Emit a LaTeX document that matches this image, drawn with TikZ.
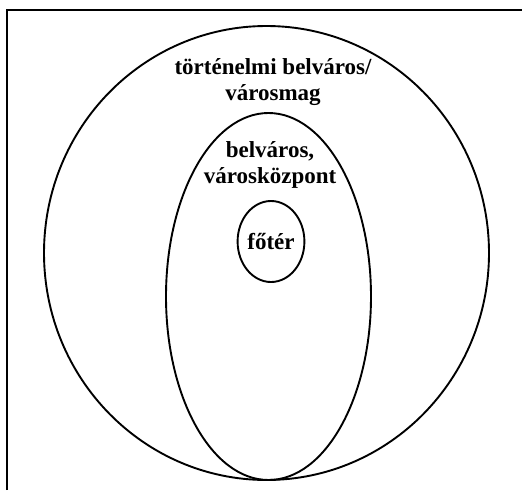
\documentclass[tikz,border=0pt]{standalone}
\usepackage{fontspec}
\setmainfont{Liberation Serif}
\usepackage{tikz}
\usetikzlibrary{shapes.geometric,positioning}

\begin{document}
\begin{tikzpicture}[
    x=1pt, y=-1pt,
    zone/.style={ellipse, draw=black, line width=1.9pt, inner sep=0pt},
    label/.style={align=center, font=\fontsize{23}{26}\selectfont\bfseries, inner sep=0pt}
]
    \useasboundingbox (0,0) rectangle (522,490);
    % frame
    \draw [line width=1.6pt] (7,490) -- (7,10) -- (522,10);

    \node [zone, minimum width=445pt, minimum height=454pt] (outer) at (266.5,253) {};
    \node [zone, minimum width=205pt, minimum height=367pt] (inner) at (268.5,296.5) {};
    \node [zone, minimum width=62pt, minimum height=81pt, font=\fontsize{23}{26}\selectfont\bfseries] (core) at (271,241.5) {f\H{o}tér};

    \node [label] (outertext) at (273,82) {történelmi belváros/\\városmag};
    \node [label] (innertext) at (270,165) {belváros,\\városközpont};
\end{tikzpicture}
\end{document}
